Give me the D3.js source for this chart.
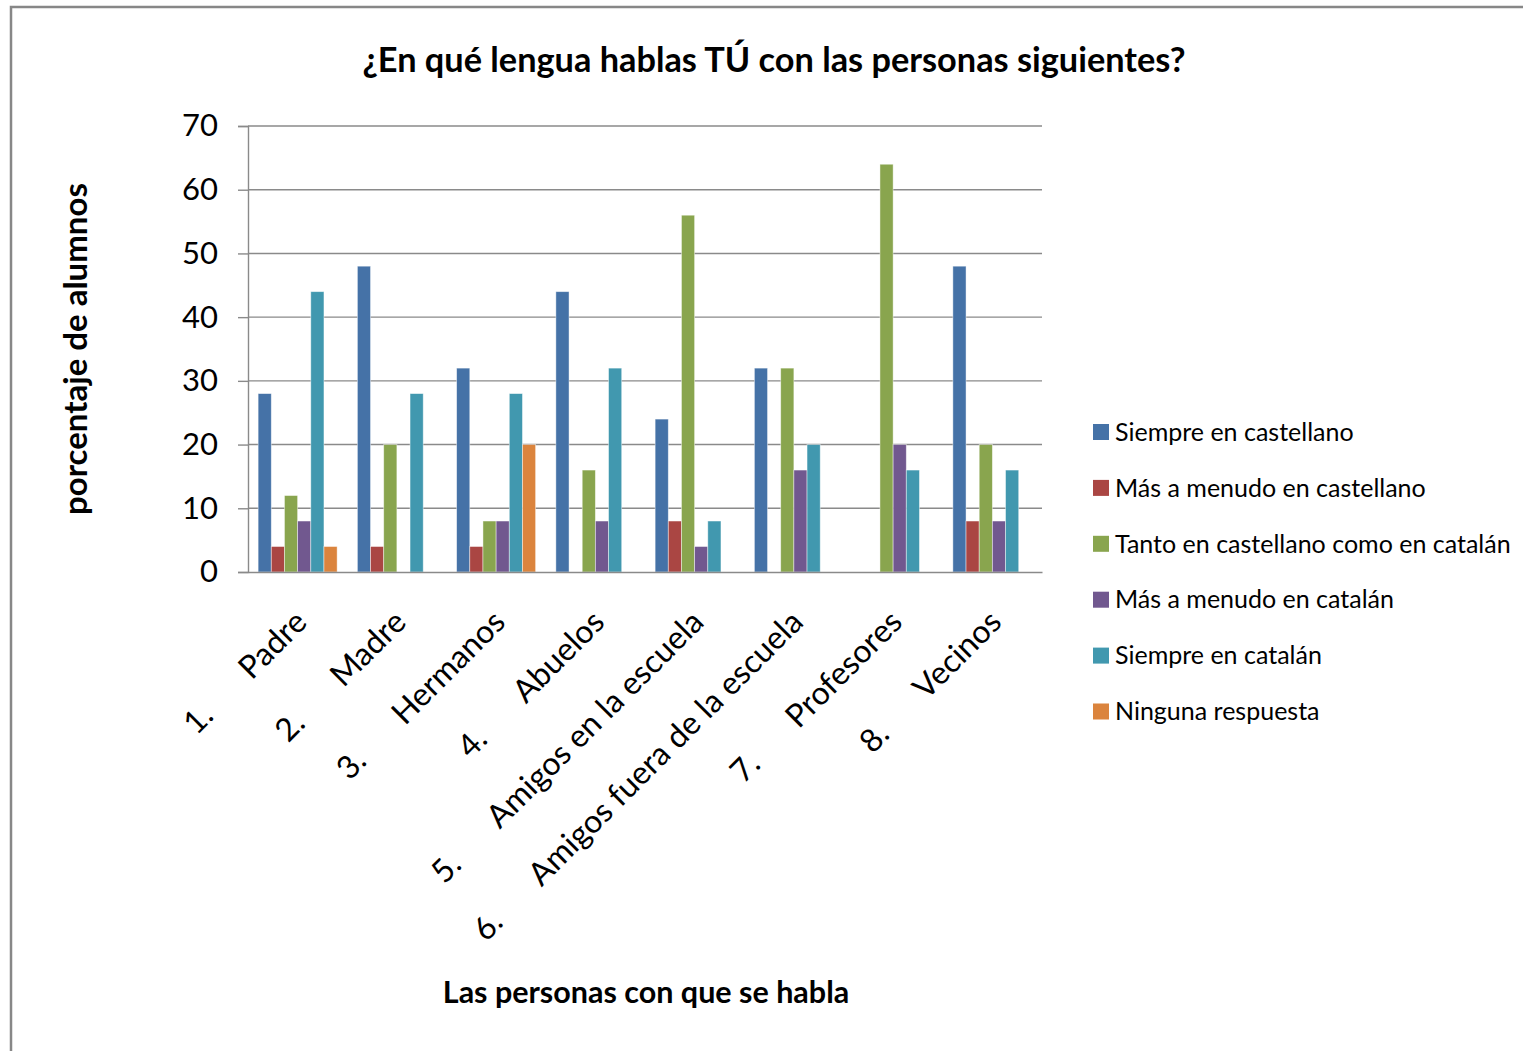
<!DOCTYPE html>
<html><head><meta charset="utf-8">
<script src="https://cdn.jsdelivr.net/npm/d3@7"></script>
<style>
html,body{margin:0;padding:0;background:#fff;}
text{font-family:Lato,"Open Sans",sans-serif;fill:#000;}
</style></head>
<body>
<svg id="chart" width="1523" height="1051"></svg>
<script>
const categoryNums = ["1.","2.","3.","4.","5.","6.","7.","8."];
const categories = ["Padre","Madre","Hermanos","Abuelos","Amigos en la escuela","Amigos fuera de la escuela","Profesores","Vecinos"];
const seriesNames = ["Siempre en castellano","Más a menudo en castellano","Tanto en castellano como en catalán","Más a menudo en catalán","Siempre en catalán","Ninguna respuesta"];
const siempreCastellano   = [28,48,32,44,24,32, 0,48];
const masCastellano       = [ 4, 4, 4, 0, 8, 0, 0, 8];
const tanto               = [12,20, 8,16,56,32,64,20];
const masCatalan          = [ 8, 0, 8, 8, 4,16,20, 8];
const siempreCatalan      = [44,28,28,32, 8,20,16,16];
const ninguna             = [ 4, 0,20, 0, 0, 0, 0, 0];
const seriesValues = [siempreCastellano,masCastellano,tanto,masCatalan,siempreCatalan,ninguna];
const colors = ["#4572A7","#AA4643","#89A54E","#71588F","#4198AF","#DB843D"];
const yTicks = [0,10,20,30,40,50,60,70];

const svg = d3.select("#chart");
const plot = {left:248, right:1042, top:126, bottom:572};

// outer border
svg.append("rect").attr("x",11).attr("y",7).attr("width",1700).attr("height",1200)
  .attr("fill","#fff").attr("stroke","#878787").attr("stroke-width",2.5);

const x0 = d3.scaleBand().domain(categories).range([plot.left, plot.right]).padding(0);
const gap = x0.bandwidth()*0.102;
const x1 = d3.scaleBand().domain(d3.range(seriesNames.length)).range([gap, x0.bandwidth()-gap]).padding(0);
const y = d3.scaleLinear().domain([0,70]).range([plot.bottom, plot.top]);

// gridlines
svg.append("g").selectAll("line").data(yTicks.filter(d=>d>0)).join("line")
  .attr("x1",plot.left).attr("x2",plot.right)
  .attr("y1",d=>y(d)).attr("y2",d=>y(d))
  .attr("stroke","#8a8a8a").attr("stroke-width",1.4);

// bars
const data = [];
categories.forEach((c,i)=>seriesValues.forEach((s,j)=>data.push({c, j, v:s[i]})));
svg.append("g").selectAll("rect").data(data.filter(d=>d.v>0)).join("rect")
  .attr("x",d=>x0(d.c)+x1(d.j))
  .attr("y",d=>y(d.v))
  .attr("width",x1.bandwidth())
  .attr("height",d=>y(0)-y(d.v))
  .attr("fill",d=>colors[d.j])
  .attr("stroke","rgba(255,255,255,0.55)").attr("stroke-width",0.8);

// y axis
const yAxis = d3.axisLeft(y).tickValues(yTicks).tickSize(10).tickPadding(20);
const ga = svg.append("g").attr("transform",`translate(${plot.left},0)`).call(yAxis);
ga.select(".domain").attr("stroke","#8a8a8a").attr("stroke-width",1.4);
ga.selectAll(".tick line").attr("stroke","#8a8a8a").attr("stroke-width",1.4);
ga.selectAll(".tick text").style("font-family","Lato").style("font-size","31px").attr("fill","#000");

// x axis line
const xAxis = d3.axisBottom(x0).tickSize(0).tickFormat("");
const gx = svg.append("g").attr("transform",`translate(0,${plot.bottom})`).call(xAxis);
gx.select(".domain").attr("stroke","#8a8a8a").attr("stroke-width",1.4);

// category labels rotated
const lab = svg.append("g").selectAll("text").data(categories).join("text")
  .attr("text-anchor","end")
  .attr("transform",d=>`translate(${x0(d)+x0.bandwidth()/2+11},624) rotate(-45)`)
  .style("font-size","32px");
lab.append("tspan").text((d,i)=>categoryNums[i]);
lab.append("tspan").attr("dx",52).text(d=>d);

// title
svg.append("text").attr("x",774).attr("y",72).attr("text-anchor","middle")
  .style("font-size","34.3px").style("font-weight","bold")
  .text("¿En qué lengua hablas TÚ con las personas siguientes?");
// y title
svg.append("text").attr("transform","translate(87,349) rotate(-90)").attr("text-anchor","middle")
  .style("font-size","33px").style("font-weight","bold").text("porcentaje de alumnos");
// x title
svg.append("text").attr("x",646).attr("y",1003).attr("text-anchor","middle")
  .style("font-size","30.5px").style("font-weight","bold").text("Las personas con que se habla");

// legend
const lg = svg.append("g").selectAll("g").data(seriesNames).join("g")
  .attr("transform",(d,i)=>`translate(1093,${432+i*55.9})`);
lg.append("rect").attr("x",0).attr("y",-8).attr("width",16).attr("height",16)
  .attr("fill",(d,i)=>colors[i]);
lg.append("text").attr("x",22).attr("y",0).attr("dy","0.35em")
  .style("font-size","25px").text(d=>d);
</script>
</body></html>
